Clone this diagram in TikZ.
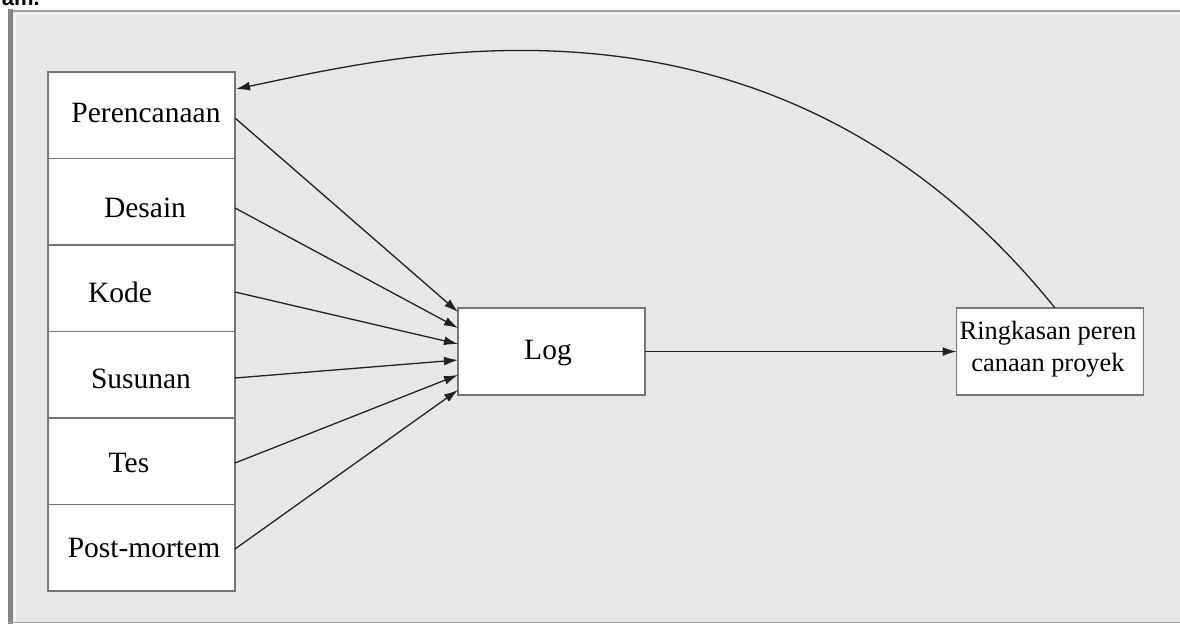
\documentclass[tikz,border=0pt]{standalone}
\usepackage{fontspec}
\setmainfont{Liberation Serif}
\newfontfamily\headsans{Liberation Sans}
\usetikzlibrary{arrows.meta}
\definecolor{bgfill}{HTML}{E6E7E9}
\definecolor{framegray}{HTML}{A3A3A3}
\definecolor{framedark}{HTML}{858585}
\definecolor{framelight}{HTML}{F3F4F6}
\definecolor{boxgray}{HTML}{767676}
\definecolor{arrowcol}{HTML}{222222}
\tikzset{
  stackbox/.style={draw=boxgray, line width=1.5pt, fill=white, minimum width=187pt, minimum height=86.5pt, inner sep=0pt, outer sep=0pt},
  mainbox/.style={draw=boxgray, line width=1.5pt, fill=white, minimum width=187pt, minimum height=87pt, inner sep=0pt, outer sep=0pt},
  labeltext/.style={font=\fontsize{29.5}{34}\selectfont, text=black, inner sep=0pt},
  conn/.style={draw=arrowcol, line width=1.3pt, -{Latex[length=14pt,width=9pt]}},
}
\begin{document}
\begin{tikzpicture}[x=1pt,y=-1pt]
\useasboundingbox (0,0) rectangle (1180,626);
\clip (0,0) rectangle (1180,626);
% top fragment of preceding text
\node[font=\headsans\bfseries\fontsize{22}{24}\selectfont, anchor=base east, inner sep=0pt] (frag) at (40,6) {am.};
% frame
\fill[bgfill] (8,10) rectangle (1190,623);
\draw[framegray, line width=2.2pt] (8,11) -- (1190,11);
\draw[framelight, line width=2pt] (14,14.5) -- (1190,14.5);
\draw[framedark, line width=5pt] (10.5,9) -- (10.5,624);
\draw[framelight, line width=2pt] (15,14) -- (15,622);
\draw[framegray, line width=1.6pt] (8,622.5) -- (1190,622.5);
% left stack
\node[stackbox] (b1) at (141.5,115.25) {};
\node[stackbox] (b2) at (141.5,201.75) {};
\node[stackbox] (b3) at (141.5,288.25) {};
\node[stackbox] (b4) at (141.5,374.75) {};
\node[stackbox] (b5) at (141.5,461.25) {};
\node[stackbox] (b6) at (141.5,547.75) {};
\node[labeltext] (t1) at (146,113) {Perencanaan};
\node[labeltext] (t2) at (145,208) {Desain};
\node[labeltext] (t3) at (120,292) {Kode};
\node[labeltext] (t4) at (141,379) {Susunan};
\node[labeltext] (t5) at (129,463) {Tes};
\node[labeltext] (t6) at (144,548) {Post-mortem};
% log and summary
\node[mainbox] (log) at (551.5,351.5) {};
\node[labeltext] (tlog) at (548,353) {Log};
\node[mainbox] (sum) at (1050,351.5) {};
\node[font=\fontsize{26.4}{32}\selectfont, align=center, inner sep=0pt] (tsum) at (1048,349) {Ringkasan peren\\canaan proyek};
% connector endpoints
\coordinate (s1) at (235,118);
\coordinate (s2) at (235,208);
\coordinate (s3) at (235,292);
\coordinate (s4) at (235,378);
\coordinate (s5) at (235,463);
\coordinate (s6) at (235,549);
\coordinate (e1) at (458,312);
\coordinate (e2) at (458,328);
\coordinate (e3) at (458,344);
\coordinate (e4) at (458,360);
\coordinate (e5) at (458,375);
\coordinate (e6) at (458,390);
\foreach \i in {1,...,6} { \draw[conn] (s\i) -- (e\i); }
\draw[conn] (log.east) -- (sum.west);
\coordinate (ctop) at (1055,308);
\coordinate (ctip) at (236,89);
\draw[conn] (ctop) .. controls (773,-42) and (396,56) .. (ctip);
\end{tikzpicture}
\end{document}
